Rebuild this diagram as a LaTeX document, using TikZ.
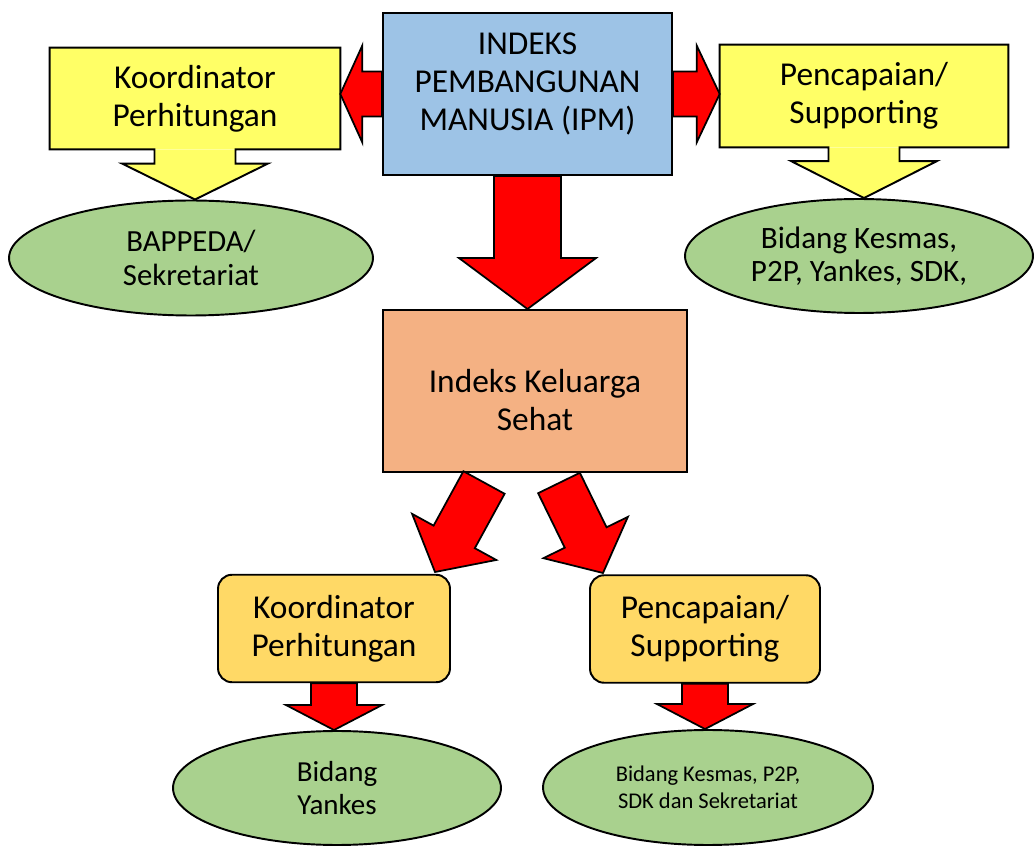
\documentclass[tikz,border=0pt]{standalone}
\usepackage{fontspec}
\setmainfont{Carlito}
\usetikzlibrary{calc,shapes.geometric}

\definecolor{ipmblue}{HTML}{9DC3E6}
\definecolor{calloutyellow}{HTML}{FFFF66}
\definecolor{ellgreen}{HTML}{A9D18E}
\definecolor{iksorange}{HTML}{F4B183}
\definecolor{subgold}{HTML}{FFD966}
\definecolor{arrowred}{HTML}{FF0000}

\newcommand\arrowpts[5]{%
  \coordinate (ar_n) at ($(#2)!#5!(#1)$);
  \coordinate (ar_a) at ($(#1)!#3!90:(#2)$);
  \coordinate (ar_b) at ($(ar_n)!#3!90:(#2)$);
  \coordinate (ar_c) at ($(ar_n)!#4!90:(#2)$);
  \coordinate (ar_d) at ($(ar_n)!#4!-90:(#2)$);
  \coordinate (ar_e) at ($(ar_n)!#3!-90:(#2)$);
  \coordinate (ar_f) at ($(#1)!#3!-90:(#2)$);
}
\newcommand\blockarrow[5]{%
  \arrowpts{#1}{#2}{#3}{#4}{#5}
  \draw[redblock] (ar_a) -- (ar_b) -- (ar_c) -- (#2) -- (ar_d) -- (ar_e) -- (ar_f) -- cycle;
}
\newcommand\callout[5]{%
  \arrowpts{#1.south}{#2}{#3}{#4}{#5}
  \fill[calloutyellow] (ar_a) -- (ar_b) -- (ar_c) -- (#2) -- (ar_d) -- (ar_e) -- (ar_f) -- cycle;
  \draw[outline] (#1.south east) -- (ar_a) -- (ar_b) -- (ar_c) -- (#2) -- (ar_d) -- (ar_e) -- (ar_f)
    -- (#1.south west) -- (#1.north west) -- (#1.north east) -- cycle;
}

\begin{document}
\begin{tikzpicture}[x=0.02cm,y=-0.02cm]
\tikzset{
  outline/.style={draw=black,line width=1.1pt},
  box/.style={rectangle,outline,inner sep=0pt},
  boxtext/.style={align=center,inner sep=0pt,font=\fontsize{19}{21.6}\selectfont},
  callbox/.style={rectangle,fill=calloutyellow,inner sep=0pt,align=center,font=\fontsize{19}{21.6}\selectfont},
  subbox/.style={rectangle,rounded corners=0.28cm,outline,fill=subgold,inner sep=0pt,align=center,
    minimum height=2.15cm,font=\fontsize{19}{21.6}\selectfont},
  ell/.style={ellipse,outline,fill=ellgreen,inner sep=0pt,align=center},
  redblock/.style={outline,line width=1pt,fill=arrowred,line join=miter}
}
\useasboundingbox (0,0) rectangle (1035,847);

\node[box,fill=ipmblue,minimum width=5.78cm,minimum height=3.24cm] (n_ipm) at (527.5,94) {};
\node[boxtext] (t_ipm) at (527.5,84) {INDEKS\\PEMBANGUNAN\\MANUSIA (IPM)};
\node[box,fill=iksorange,minimum width=6.08cm,minimum height=3.24cm] (n_iks) at (535,391) {};
\node[boxtext] (t_iks) at (535,400) {Indeks Keluarga\\Sehat};

\node[callbox,minimum width=5.80cm,minimum height=2.02cm] (n_kp) at (195,98.5) {Koordinator\\Perhitungan};
\node[callbox,minimum width=5.76cm,minimum height=2.04cm] (n_ps) at (864,96) {Pencapaian/\\Supporting};
\node[ell,minimum width=7.28cm,minimum height=2.30cm,font=\fontsize{17.5}{19.8}\selectfont] (n_bs) at (191,258) {BAPPEDA/\\Sekretariat};
\node[ell,minimum width=6.96cm,minimum height=2.28cm,font=\fontsize{17.7}{19}\selectfont] (n_bk) at (859,256) {Bidang Kesmas,\\P2P, Yankes, SDK,};

\node[subbox,minimum width=4.64cm] (n_kl) at (334,628.5) {Koordinator\\Perhitungan};
\node[subbox,minimum width=4.60cm] (n_pl) at (705,629) {Pencapaian/\\Supporting};
\node[ell,minimum width=6.56cm,minimum height=2.28cm,font=\fontsize{16.5}{18.7}\selectfont] (n_by) at (337,788) {Bidang\\Yankes};
\node[ell,minimum width=6.60cm,minimum height=2.30cm,font=\fontsize{12.8}{15.3}\selectfont] (n_bks) at (708,787.5) {Bidang Kesmas, P2P,\\SDK dan Sekretariat};

\coordinate (c_kp) at (n_kp.south |- n_bs.north);
\coordinate (c_ps) at (n_ps.south |- n_bk.north);
\callout{n_kp}{c_kp}{0.81cm}{1.46cm}{0.72cm}
\callout{n_ps}{c_ps}{0.71cm}{1.46cm}{0.74cm}

\coordinate (c_left) at (n_kp.east |- n_ipm.west);
\coordinate (c_right) at (n_ps.west |- n_ipm.east);
\coordinate (c_down) at (n_ipm.south |- n_iks.north);
\coordinate (c_ls) at (484,482.5);
\coordinate (c_le) at (435,572);
\coordinate (c_rs) at (559,483);
\coordinate (c_re) at (603,573);
\coordinate (c_kl) at (n_kl.south |- n_by.north);
\coordinate (c_pl) at (n_pl.south |- n_bks.north);
\blockarrow{n_ipm.west}{c_left}{0.45cm}{0.97cm}{0.44cm}
\blockarrow{n_ipm.east}{c_right}{0.45cm}{0.97cm}{0.46cm}
\blockarrow{n_ipm.south}{c_down}{0.67cm}{1.37cm}{1.02cm}
\blockarrow{c_ls}{c_le}{0.47cm}{0.96cm}{0.8cm}
\blockarrow{c_rs}{c_re}{0.465cm}{0.94cm}{0.79cm}
\blockarrow{n_kl.south}{c_kl}{0.46cm}{0.96cm}{0.5cm}
\blockarrow{n_pl.south}{c_pl}{0.46cm}{0.96cm}{0.5cm}
\end{tikzpicture}
\end{document}
